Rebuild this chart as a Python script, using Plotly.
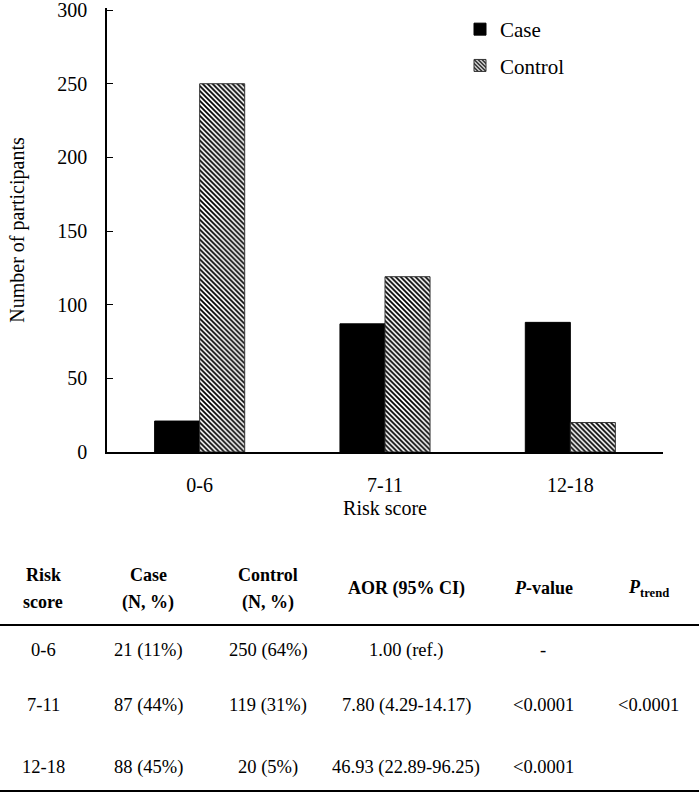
import plotly.graph_objects as go

# ---- data ----
categories = ["0-6", "7-11", "12-18"]
case_values = [21, 87, 88]
control_values = [250, 119, 20]
y_ticks = [0, 50, 100, 150, 200, 250, 300]

table_header_top = ["Risk", "Case", "Control", "", "", ""]
table_header_bottom = ["score", "(N, %)", "(N, %)", "", "", ""]
table_header_single = ["", "", "", "AOR (95% CI)", "<i>P</i>-value", "<i>P</i><sub>trend</sub>"]
table_rows = [
    ["0-6", "21 (11%)", "250 (64%)", "1.00 (ref.)", "-", ""],
    ["7-11", "87 (44%)", "119 (31%)", "7.80 (4.29-14.17)", "<0.0001", "<0.0001"],
    ["12-18", "88 (45%)", "20 (5%)", "46.93 (22.89-96.25)", "<0.0001", ""],
]

W, H = 700, 795
L, R, T, B = 107, 37, 8, 343
PW, PH = W - L - R, H - T - B
FONT = "Liberation Serif, Times New Roman, serif"


def px_x(x):
    return (x - L) / PW


def px_y(y):
    return (H - B - y) / PH


fig = go.Figure()
fig.add_trace(go.Bar(
    x=categories, y=case_values, name="Case", legendgroup="case",
    marker=dict(color="black", line=dict(color="black", width=1)),
))
fig.add_trace(go.Bar(
    x=categories, y=control_values, name="Control", legendgroup="control",
    marker=dict(color="white", line=dict(color="#333", width=1),
                pattern=dict(shape="\\", fgcolor="black", bgcolor="white",
                             size=3.5, solidity=0.5, fillmode="replace")),
))

# table
col_x = [43, 148, 268, 406, 543, 648]
row_y = [650, 705, 767]
ann = []


def add_text(cx, cy, text, size, bold=False):
    if text == "":
        return
    t = text.replace("<0", "&lt;0")
    if bold:
        t = "<b>" + t + "</b>"
    ann.append(dict(x=px_x(cx), y=px_y(cy), xref="paper", yref="paper",
                    text=t, showarrow=False,
                    font=dict(family=FONT, size=size, color="black"),
                    xanchor="center", yanchor="middle", align="center"))


for cx, a, b, s in zip(col_x, table_header_top, table_header_bottom, table_header_single):
    add_text(cx, 575, a, 18, True)
    add_text(cx, 602, b, 18, True)
    add_text(cx, 588, s, 18, True)
for ry, row in zip(row_y, table_rows):
    for cx, v in zip(col_x, row):
        add_text(cx, ry, v, 18.5)

shapes = []
for ly in [625, 791]:
    shapes.append(dict(type="line", xref="paper", yref="paper",
                       x0=px_x(0), x1=px_x(699), y0=px_y(ly), y1=px_y(ly),
                       line=dict(color="black", width=2)))

fig.update_layout(
    width=W, height=H,
    margin=dict(l=L, r=R, t=T, b=B, autoexpand=False),
    paper_bgcolor="white", plot_bgcolor="white",
    font=dict(family=FONT, size=20, color="black"),
    barmode="group", bargap=0.514, bargroupgap=0,
    showlegend=True,
    legend=dict(x=px_x(460), y=px_y(9), xanchor="left", yanchor="top",
                font=dict(family=FONT, size=21, color="black"),
                bgcolor="rgba(0,0,0,0)", tracegroupgap=6),
    annotations=ann, shapes=shapes,
    xaxis=dict(showline=True, linecolor="black", linewidth=1.5, ticks="",
               showgrid=False, zeroline=False,
               title=dict(text="Risk score", standoff=6,
                          font=dict(family=FONT, size=20)),
               tickfont=dict(family=FONT, size=20), ticklabelstandoff=14),
    yaxis=dict(range=[0, 301.4], tickvals=y_ticks, showline=True, linecolor="black",
               linewidth=1.5, ticks="inside", ticklen=6, tickcolor="black",
               showgrid=False, zeroline=False, ticklabeloverflow="allow",
               title=dict(text="Number of participants", standoff=27,
                          font=dict(family=FONT, size=20)),
               tickfont=dict(family=FONT, size=20), ticklabelstandoff=14),
)

fig.write_html("out.html", config={"displayModeBar": False},
               post_script="document.body.style.margin='0px';")
